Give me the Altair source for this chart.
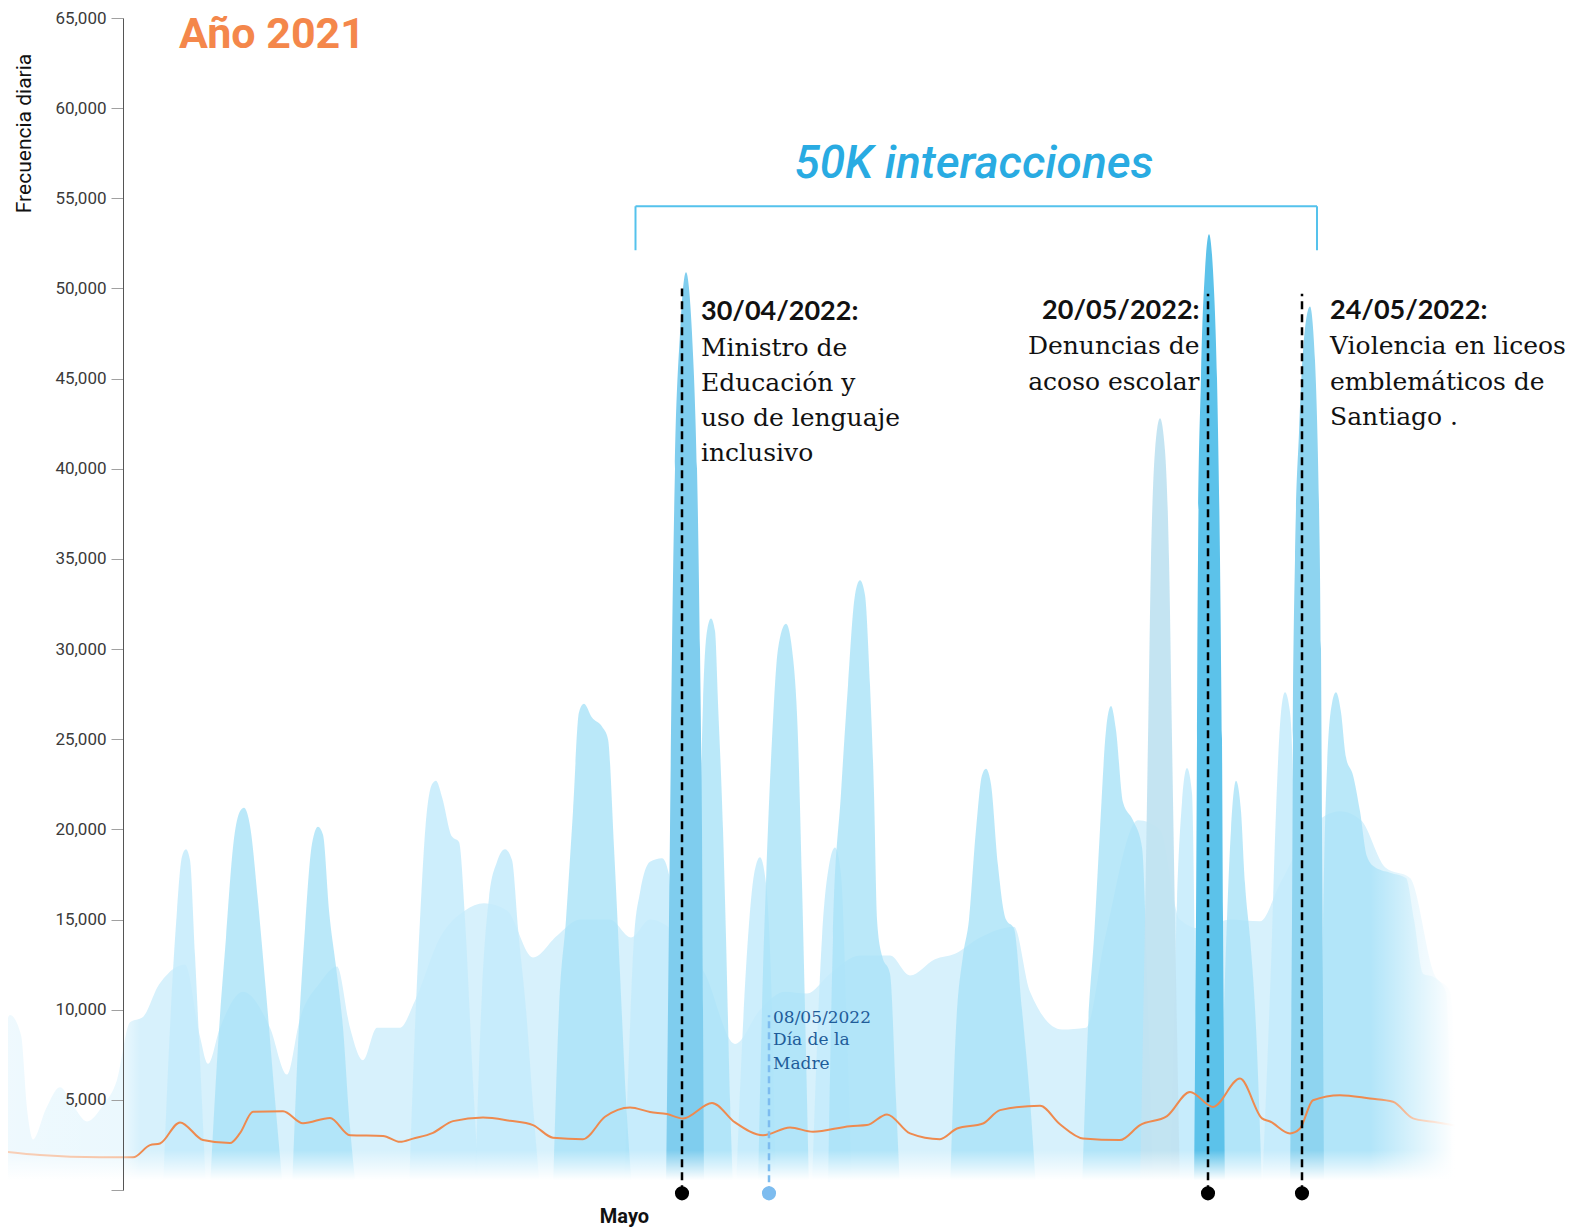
import altair as alt
import pandas as pd

# ---------------- data ----------------
# x unit "t": position along the series (no date axis shown), y: daily frequency
y_ticks = list(range(0, 65001, 5000))
mayo_t = 62.4

# light background silhouette (valleys / shoulders)
envolvente = [(0.0, 7000), (1.0, 9700), (2.1, 8600), (2.7, 4500), (3.3, 2800), (4.6, 4500), (6.0, 5700),
              (7.4, 4600), (8.7, 3800), (10.3, 4700), (11.7, 6100), (13.0, 9300), (14.3, 9600), (15.9, 11400),
              (16.8, 12000), (18.5, 12500), (20.0, 8500), (20.8, 7000), (22.0, 9000), (24.3, 11000),
              (27.0, 9000), (28.7, 6400), (30.0, 9500), (32.0, 11500), (33.7, 12400), (35.0, 9000),
              (36.3, 7200), (37.7, 9000), (40.0, 9000), (41.5, 10500), (44.0, 14000), (46.5, 15500),
              (48.4, 15900), (50.7, 15500), (53.3, 12900), (55.7, 14100), (58.0, 15000), (61.0, 15000),
              (63.1, 14000), (65.0, 15000), (68.0, 14000), (70.5, 12000), (73.5, 8100), (76.0, 10000),
              (78.5, 11000), (80.7, 10900), (83.0, 12000), (86.0, 13000), (89.0, 13000), (91.0, 11900),
              (93.5, 12800), (95.5, 13100), (98.0, 14000), (101.4, 14600), (103.0, 11000), (106.2, 8900),
              (108.6, 9000), (110.5, 14000), (113.8, 20500), (116.0, 20000), (118.0, 15000), (120.0, 14500),
              (123.0, 15000), (126.0, 14900), (128.0, 17000), (131.0, 20000), (134.0, 21000), (136.1, 20500),
              (138.5, 17900), (141.0, 17300), (143.4, 12000), (145.0, 11000), (146.0, 0)]

picos_claros = {
    "b1": [(16.3, 0), (17.0, 9000), (17.7, 15500), (18.2, 18500), (18.6, 18900), (19.0, 18300), (19.5, 13000), (20.1, 6000), (20.6, 0)],
    "b4": [(40.9, 0), (41.5, 9000), (42.0, 15000), (42.6, 20500), (43.2, 22500), (43.6, 22700), (44.2, 21800), (45.2, 19600), (45.9, 19300), (46.5, 15000), (47.3, 6000), (47.9, 0)],
    "b5": [(47.5, 0), (48.2, 11000), (48.9, 16200), (49.7, 18200), (50.5, 18900), (51.2, 18300), (51.8, 14500), (52.6, 10000), (53.4, 4000), (54.0, 0)],
    "b6s": [(62.4, 0), (63.0, 9000), (63.4, 14000), (64.0, 16500), (65.0, 18200), (66.2, 18400), (66.9, 17500), (67.5, 8000), (68.0, 0)],
    "b8s": [(73.6, 0), (74.2, 8000), (74.8, 14000), (75.4, 17500), (76.0, 18450), (76.6, 17000), (77.2, 10000), (77.6, 0)],
    "b9s": [(81.2, 0), (81.7, 8000), (82.2, 14000), (82.9, 18000), (83.5, 19000), (84.1, 17500), (84.7, 9000), (85.2, 0)],
    "b12s": [(117.0, 0), (117.4, 10000), (117.7, 16000), (118.2, 21500), (118.7, 23400), (119.2, 22000), (119.6, 10000), (119.9, 0)],
    "b14s": [(126.2, 0), (126.8, 8000), (127.2, 14000), (127.6, 21000), (128.1, 26500), (128.5, 27600), (129.0, 26500), (129.4, 20000), (129.8, 0)],
}

picos_medios = {
    "b2": [(21.0, 0), (21.8, 8000), (22.6, 14000), (23.4, 19500), (24.0, 21000), (24.4, 21200), (25.0, 20200), (25.8, 16000), (26.6, 11000), (27.5, 5000), (28.3, 0)],
    "b3": [(29.2, 0), (29.8, 8000), (30.5, 14500), (31.2, 19200), (31.8, 20150), (32.3, 19700), (32.9, 15500), (33.6, 12400), (34.3, 9000), (35.0, 3500), (35.6, 0)],
    "b6": [(55.3, 0), (55.9, 10000), (56.6, 15000), (57.3, 21000), (57.9, 26500), (58.4, 26970), (59.2, 26200), (60.2, 25700), (60.8, 25000), (61.4, 19000), (62.0, 12000), (62.6, 5000), (63.2, 0)],
    "b7": [(69.6, 0), (69.8, 14000), (70.0, 20000), (70.3, 27000), (70.7, 31000), (71.1, 31700), (71.5, 31000), (71.8, 27000), (72.3, 20000), (72.6, 14000), (73.0, 5000), (73.3, 0)],
    "b8": [(75.8, 0), (76.2, 10000), (76.6, 17000), (77.2, 25000), (77.8, 30000), (78.6, 31400), (79.2, 30000), (79.8, 25000), (80.2, 17000), (80.5, 10000), (80.9, 0)],
    "b9": [(82.8, 0), (83.3, 14000), (84.1, 22000), (84.8, 28000), (85.5, 33000), (86.0, 33820), (86.5, 33000), (87.0, 28000), (87.4, 22000), (87.7, 15000), (88.2, 13000), (89.0, 12000), (89.6, 5000), (90.0, 0)],
    "b10": [(95.0, 0), (95.6, 9000), (96.3, 13000), (96.9, 15000), (97.6, 20000), (98.2, 23000), (98.6, 23360), (99.1, 22500), (99.8, 18000), (100.6, 15000), (101.4, 14500), (102.2, 10000), (103.0, 5000), (103.6, 0)],
    "b11": [(108.2, 0), (108.8, 9000), (109.4, 14000), (110.0, 20000), (110.6, 25500), (111.1, 26840), (111.6, 25500), (112.3, 21500), (113.3, 20500), (114.2, 19000), (114.8, 10000), (115.3, 0)],
    "b13": [(122.0, 0), (122.4, 10000), (122.7, 15000), (123.1, 20000), (123.6, 22700), (124.1, 21000), (124.5, 17000), (125.0, 14000), (125.6, 9000), (126.2, 0)],
    "b14": [(132.0, 0), (132.3, 14200), (132.7, 23400), (133.2, 27000), (133.6, 27600), (134.1, 26500), (134.6, 24000), (135.3, 23000), (136.0, 21000), (136.7, 18500), (137.5, 17900), (139.0, 17600), (140.6, 17300), (141.4, 15000), (142.3, 12000), (143.4, 11800), (144.6, 11000), (145.2, 0)],
}

pico_gris = {
    "b12": [(114.0, 0), (114.5, 15000), (114.8, 25000), (115.1, 35000), (115.5, 41000), (116.0, 42800), (116.5, 41000), (116.9, 35000), (117.2, 25000), (117.5, 15000), (118.0, 0)],
}

evento_30_04 = [(66.6, 0), (66.8, 10000), (67.0, 20000), (67.2, 30000), (67.5, 40000), (68.0, 47500), (68.6, 50900), (69.2, 47500), (69.7, 40000), (70.0, 30000), (70.2, 20000), (70.3, 10000), (70.4, 0)]
evento_20_05 = [(119.4, 0), (119.6, 15000), (119.7, 25000), (119.8, 35000), (120.1, 45000), (120.5, 51000), (120.9, 53000), (121.3, 51000), (121.7, 45000), (122.0, 35000), (122.2, 25000), (122.3, 15000), (122.5, 0)]
evento_24_05 = [(129.0, 0), (129.2, 15000), (129.3, 25000), (129.5, 35000), (129.9, 42000), (130.3, 46500), (131.0, 49000), (131.5, 46000), (131.9, 38000), (132.1, 30000), (132.2, 20000), (132.3, 10000), (132.4, 0)]

# 2021 comparison line
anio2021 = [(0.0, 2160), (4.0, 1940), (10.0, 1810), (13.3, 1810), (15.0, 2490), (16.0, 2580), (18.0, 3750),
            (20.3, 2770), (23.0, 2600), (24.0, 3150), (25.3, 4340), (28.3, 4370), (30.3, 3700), (33.0, 4000),
            (35.0, 3040), (38.3, 3000), (40.0, 2670), (41.3, 2850), (43.3, 3170), (45.3, 3820), (48.3, 4020),
            (51.0, 3840), (53.3, 3600), (55.3, 2900), (58.3, 2820), (60.5, 4060), (63.0, 4580), (65.0, 4330),
            (66.7, 4210), (68.3, 3970), (71.2, 4830), (73.5, 3750), (76.3, 3040), (79.0, 3470), (81.3, 3230),
            (85.0, 3540), (86.7, 3600), (88.7, 4190), (91.0, 3140), (94.0, 2820), (95.7, 3410), (98.3, 3690),
            (100.0, 4430), (104.0, 4670), (106.0, 3650), (108.3, 2860), (112.0, 2770), (114.0, 3600),
            (116.7, 4100), (119.0, 5440), (121.3, 4610), (124.0, 6180), (126.2, 3970), (127.0, 3800),
            (129.0, 3140), (130.0, 3410), (131.3, 4980), (134.0, 5260), (137.0, 5070), (139.3, 4890),
            (141.3, 3970), (143.3, 3780), (145.7, 3560)]

eventos_t = [68.2, 120.8, 130.2]
eventos_tope = [50000, 49700, 49700]
madre_t = 76.9
madre_tope = 9690
dot_v = -185

# annotation text lines: (t, v, text, align)
fechas = [(70.1, 48710, "30/04/2022:", "left"), (119.95, 48760, "20/05/2022:", "right"), (133.0, 48760, "24/05/2022:", "left")]
cuerpo = [(70.1, 46680, "Ministro de", "left"), (70.1, 44740, "Educación y", "left"),
          (70.1, 42800, "uso de lenguaje", "left"), (70.1, 40870, "inclusivo", "left"),
          (119.95, 46800, "Denuncias de", "right"), (119.95, 44830, "acoso escolar", "right"),
          (133.0, 46800, "Violencia en liceos", "left"), (133.0, 44830, "emblemáticos de", "left"),
          (133.0, 42870, "Santiago .", "left")]
madre_txt = [(77.3, 9520, "08/05/2022"), (77.3, 8300, "Día de la"), (77.3, 6970, "Madre")]
bracket_t = [63.55, 131.7]
bracket_v = [54560, 52120]

# ---------------- helpers ----------------
def long_df(d):
    return pd.DataFrame([{"id": k, "t": t, "v": v} for k, pts in d.items() for t, v in pts])

xs = alt.Scale(domain=[12.3, 144.3], nice=False, zero=False)
ys = alt.Scale(domain=[0, 65000], nice=False, zero=False)
SANS = "Roboto, sans-serif"

xa = alt.Axis(values=[mayo_t], labelExpr="'Mayo'", domain=False, ticks=False, tickSize=0, grid=False,
              labelFont=SANS, labelFontSize=20, labelFontWeight="bold", labelColor="#111111",
              labelPadding=16, title=None, zindex=1)
ya = alt.Axis(values=y_ticks, labelExpr="datum.value == 0 ? '' : format(datum.value, ',')",
              tickSize=12, tickColor="#a0a0a0", tickWidth=1, domainColor="#555555", domainWidth=1,
              labelFont=SANS, labelFontSize=17, labelColor="#3a3a3a", labelPadding=5, grid=False,
              title="Frecuencia diaria", titleFont=SANS, titleFontSize=21, titleFontWeight="normal",
              titleColor="#111111", titleAngle=270, titleAlign="center", titleBaseline="middle",
              titleX=-99, titleY=115, zindex=1)

def X(f):
    return alt.X(f, type="quantitative", scale=xs, axis=xa)

def Y(f):
    return alt.Y(f, type="quantitative", scale=ys, axis=ya, stack=None)

def area_layer(df, color, opacity):
    return alt.Chart(df).mark_area(interpolate="monotone", color=color, opacity=opacity).encode(
        x=X("t"), y=Y("v"), detail="id:N")

env_df = long_df({"env": envolvente})
layers = [
    area_layer(env_df, "#d7f1fc", 1),
    area_layer(long_df(picos_claros), "#c4ebfb", 0.85),
    area_layer(long_df(picos_medios), "#a9e2f8", 0.8),
    area_layer(long_df(pico_gris), "#c1e3f1", 0.95),
    area_layer(long_df({"e1": evento_30_04}), "#7fcdee", 1),
    area_layer(long_df({"e2": evento_20_05}), "#5cc2ea", 1),
    area_layer(long_df({"e3": evento_24_05}), "#8ed4f0", 1),
]

def W(a):
    return f"rgba(255,255,255,{a})"

fade_bottom = alt.Chart(pd.DataFrame([{"t": -1, "t2": 147, "v": 2200, "v2": 0}])).mark_rect(
    fill={"gradient": "linear", "x1": 0, "x2": 0, "y1": 0, "y2": 1,
          "stops": [{"offset": 0, "color": W(0)}, {"offset": 0.75, "color": W(1)}, {"offset": 1, "color": W(1)}]}
).encode(x=X("t"), x2="t2", y=Y("v"), y2="v2")
layers.append(fade_bottom)

orange_df = pd.DataFrame([{"t": t, "v": v} for t, v in anio2021])
layers.append(alt.Chart(orange_df).mark_line(interpolate="monotone", color="#ee8a4f", strokeWidth=2).encode(
    x=X("t"), y=Y("v")))

fade_left = alt.Chart(pd.DataFrame([{"t": 0, "t2": 14.0, "v": 30000, "v2": -500}])).mark_rect(
    fill={"gradient": "linear", "x1": 0, "x2": 1, "y1": 0, "y2": 0,
          "stops": [{"offset": 0, "color": W(0.6)}, {"offset": 0.88, "color": W(0.5)}, {"offset": 1, "color": W(0)}]}
).encode(x=X("t"), x2="t2", y=Y("v"), y2="v2")
fade_right = alt.Chart(pd.DataFrame([{"t": 137.0, "t2": 147.0, "v": 40000, "v2": -500}])).mark_rect(
    fill={"gradient": "linear", "x1": 0, "x2": 1, "y1": 0, "y2": 0,
          "stops": [{"offset": 0, "color": W(0)}, {"offset": 0.85, "color": W(1)}, {"offset": 1, "color": W(1)}]}
).encode(x=X("t"), x2="t2", y=Y("v"), y2="v2")
layers += [fade_left, fade_right]

# Día de la Madre marker
madre_df = pd.DataFrame([{"t": madre_t, "v": dot_v, "v2": madre_tope}])
layers.append(alt.Chart(madre_df).mark_rule(color="#7dbcef", strokeWidth=2.5, strokeDash=[7, 4]).encode(
    x=X("t"), y=Y("v"), y2="v2"))
layers.append(alt.Chart(madre_df).mark_circle(color="#7dbcef", size=200, opacity=1).encode(x=X("t"), y=Y("v")))

ev_df = pd.DataFrame({"t": eventos_t, "v": [dot_v] * 3, "v2": eventos_tope})
layers.append(alt.Chart(ev_df).mark_rule(color="#000000", strokeWidth=2.5, strokeDash=[8, 5]).encode(
    x=X("t"), y=Y("v"), y2="v2"))
layers.append(alt.Chart(ev_df).mark_circle(color="#000000", size=200, opacity=1).encode(x=X("t"), y=Y("v")))

# bracket
br_h = pd.DataFrame([{"t": bracket_t[0], "t2": bracket_t[1], "v": bracket_v[0]}])
br_v = pd.DataFrame([{"t": bracket_t[0], "v": bracket_v[0], "v2": bracket_v[1]},
                     {"t": bracket_t[1], "v": bracket_v[0], "v2": bracket_v[1]}])
layers.append(alt.Chart(br_h).mark_rule(color="#55c2ec", strokeWidth=2).encode(x=X("t"), x2="t2", y=Y("v")))
layers.append(alt.Chart(br_v).mark_rule(color="#55c2ec", strokeWidth=2).encode(x=X("t"), y=Y("v"), y2="v2"))

# texts
def text_layer(rows, align, baseline="middle", **kw):
    df = pd.DataFrame([{"t": r[0], "v": r[1], "txt": r[2]} for r in rows])
    return alt.Chart(df).mark_text(align=align, baseline=baseline, **kw).encode(
        x=X("t"), y=Y("v"), text="txt:N")

for al in ["left", "right"]:
    rows = [r for r in fechas if r[3] == al]
    layers.append(text_layer(rows, al, font="Lato", fontWeight="bold", fontSize=27, color="#111111"))
    rows = [r for r in cuerpo if r[3] == al]
    layers.append(text_layer(rows, al, font="DejaVu Serif", fontSize=25, color="#111111"))

layers.append(text_layer(madre_txt, "left", font="DejaVu Serif", fontSize=17, color="#1f5c99"))
layers.append(text_layer([(97.4, 56130, "50K interacciones")], "center", baseline="alphabetic",
                         font=SANS, fontSize=46, fontStyle="italic", fontWeight=500, color="#29abe2"))
layers.append(text_layer([(17.9, 63340, "Año 2021")], "left", baseline="alphabetic", font=SANS,
                         fontSize=43, fontWeight="bold", color="#f4874b"))

chart = alt.layer(*layers).properties(
    width=1320, height=1172,
    autosize=alt.AutoSizeParams(type="none"),
    padding={"left": 115, "top": 10, "right": 125, "bottom": 40},
).configure_view(strokeWidth=0)

chart.save("out.html", embed_options={"renderer": "svg", "actions": False})
